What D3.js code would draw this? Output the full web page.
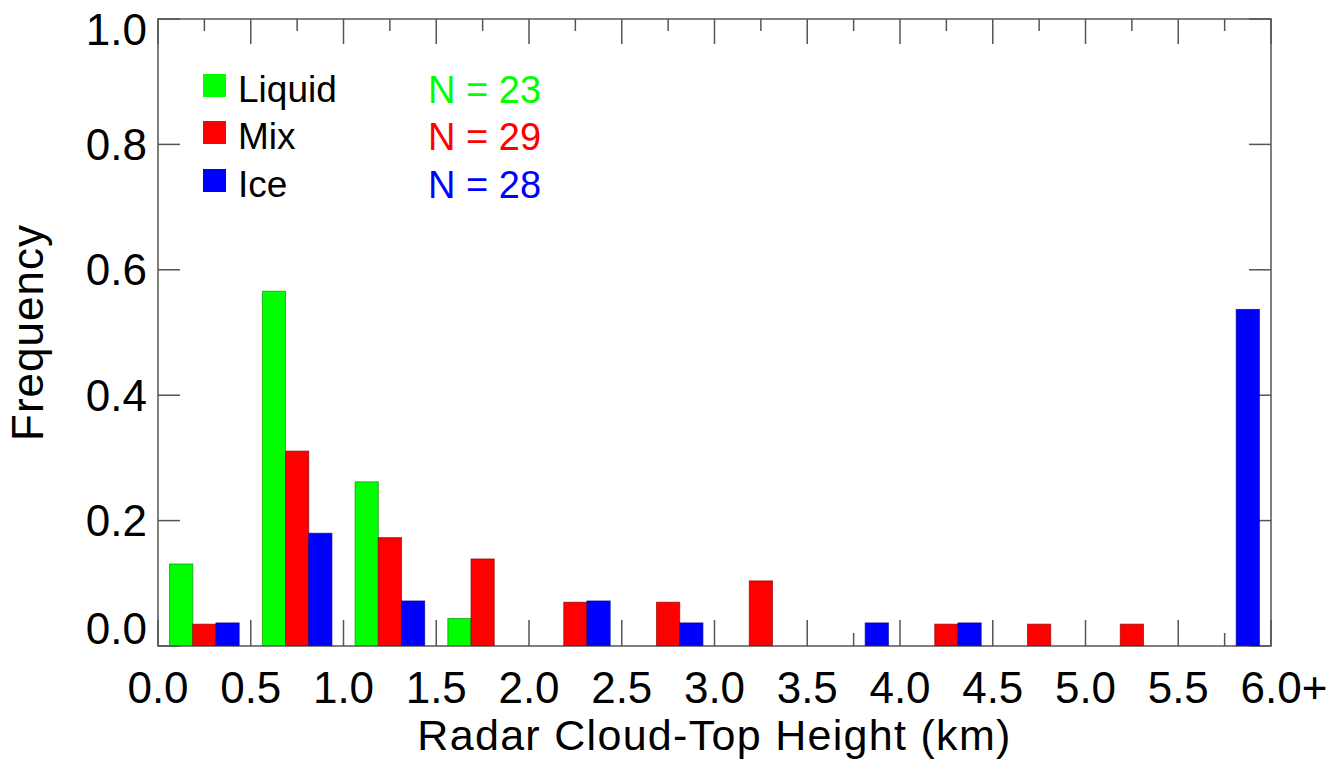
<!DOCTYPE html>
<html>
<head>
<meta charset="utf-8">
<script src="https://cdn.jsdelivr.net/npm/d3@7"></script>
<style>
  html, body { margin: 0; padding: 0; background: #fff; }
  svg { display: block; font-family: "Liberation Sans", Arial, Helvetica, sans-serif; }
</style>
</head>
<body>
<svg id="chart" width="1331" height="761"></svg>
<script>
// ---- data ----
const binStarts = [0.0, 0.5, 1.0, 1.5, 2.0, 2.5, 3.0, 3.5, 4.0, 4.5, 5.0, 5.5];
const seriesNames = ["Liquid", "Mix", "Ice"];
const seriesColors = ["#00ff00", "#ff0000", "#0000ff"];
const seriesN = [23, 29, 28];
const liquid = [0.130, 0.565, 0.261, 0.043, 0, 0, 0, 0, 0, 0, 0, 0];
const mix    = [0.034, 0.310, 0.172, 0.138, 0.069, 0.069, 0.103, 0, 0.034, 0.034, 0.034, 0];
const ice    = [0.036, 0.179, 0.071, 0, 0.071, 0.036, 0, 0.036, 0.036, 0, 0, 0.536];
const xTickValues = [0, 0.5, 1, 1.5, 2, 2.5, 3, 3.5, 4, 4.5, 5, 5.5, 6];
const xTickLabels = ["0.0", "0.5", "1.0", "1.5", "2.0", "2.5", "3.0", "3.5", "4.0", "4.5", "5.0", "5.5", "6.0+"];
const yTickValues = [0, 0.2, 0.4, 0.6, 0.8, 1.0];
const yTickLabels = ["0.0", "0.2", "0.4", "0.6", "0.8", "1.0"];
const xTitle = "Radar Cloud-Top Height (km)";
const yTitle = "Frequency";

(function () {
// ---- layout ----
const pLeft = 158, pRight = 1271, pTop = 19, pBottom = 646;
const svg = d3.select("#chart");
const x = d3.scaleLinear().domain([0, 6]).range([pLeft, pRight]);
const y = d3.scaleLinear().domain([0, 1]).range([pBottom, pTop]);
const axisColor = "#555";
const binW = 0.5, barW = binW / 4, barOff = binW / 8;

// minor / major ticks (drawn before bars)
const minorX = d3.range(0.25, 6, 0.5);
const ticks = svg.append("g").attr("stroke", axisColor).attr("stroke-width", 1.5);
xTickValues.forEach(v => {
  ticks.append("line").attr("x1", x(v)).attr("x2", x(v)).attr("y1", pBottom).attr("y2", pBottom - 26);
  ticks.append("line").attr("x1", x(v)).attr("x2", x(v)).attr("y1", pTop).attr("y2", pTop + 25);
});
minorX.forEach(v => {
  ticks.append("line").attr("x1", x(v)).attr("x2", x(v)).attr("y1", pBottom).attr("y2", pBottom - 13);
  ticks.append("line").attr("x1", x(v)).attr("x2", x(v)).attr("y1", pTop).attr("y2", pTop + 12);
});
yTickValues.forEach(v => {
  ticks.append("line").attr("x1", pLeft).attr("x2", pLeft + 22).attr("y1", y(v)).attr("y2", y(v));
  ticks.append("line").attr("x1", pRight).attr("x2", pRight - 22).attr("y1", y(v)).attr("y2", y(v));
});

// frame
svg.append("rect").attr("x", pLeft).attr("y", pTop)
  .attr("width", pRight - pLeft).attr("height", pBottom - pTop)
  .attr("fill", "none").attr("stroke", axisColor).attr("stroke-width", 1.5);

// bars (zero-height bars show as a thin dark line on the baseline)
const allSeries = [liquid, mix, ice];
allSeries.forEach((vals, si) => {
  const col = seriesColors[si];
  const dark = d3.color(col).darker(1.6).formatHex();
  svg.append("g").selectAll("rect").data(vals).join("rect")
    .attr("x", (d, i) => x(binStarts[i] + barOff + si * barW))
    .attr("width", x(barW) - x(0))
    .attr("y", d => y(d) - 0.5)
    .attr("height", d => y(0) - y(d))
    .attr("fill", col)
    .attr("stroke", dark)
    .attr("stroke-opacity", 0.7)
    .attr("stroke-width", 1);
});

// x tick labels
xTickValues.forEach((v, i) => {
  const t = svg.append("text").attr("x", x(v)).attr("y", 703)
    .attr("text-anchor", "middle").attr("font-size", 44).attr("fill", "#000")
    .text(xTickLabels[i]);
  if (xTickLabels[i].endsWith("+")) t.attr("dx", 13);
});

// y tick labels (clamped at the ends, as in the reference)
yTickValues.forEach((v, i) => {
  const cy = Math.min(Math.max(y(v), 29), 628);
  svg.append("text").attr("x", 147).attr("y", cy + 15.5)
    .attr("text-anchor", "end").attr("font-size", 44).attr("fill", "#000")
    .text(yTickLabels[i]);
});

// axis titles
svg.append("text").attr("x", (pLeft + pRight) / 2).attr("y", 750)
  .attr("text-anchor", "middle").attr("font-size", 43).attr("letter-spacing", 1.3)
  .text(xTitle);
svg.append("text")
  .attr("transform", `translate(43,${(pTop + pBottom) / 2}) rotate(-90)`)
  .attr("text-anchor", "middle").attr("font-size", 44).attr("letter-spacing", 1)
  .text(yTitle);

// legend
const legendBase = [102, 149, 197];
seriesNames.forEach((name, i) => {
  svg.append("rect").attr("x", 203).attr("y", legendBase[i] - 28)
    .attr("width", 23).attr("height", 23).attr("fill", seriesColors[i]);
  svg.append("text").attr("x", 238).attr("y", legendBase[i])
    .attr("font-size", 37).attr("fill", "#000").text(name);
  svg.append("text").attr("x", 428).attr("y", legendBase[i] + 1)
    .attr("font-size", 38).attr("fill", seriesColors[i])
    .text("N = " + seriesN[i]);
});
})();
</script>
</body>
</html>
